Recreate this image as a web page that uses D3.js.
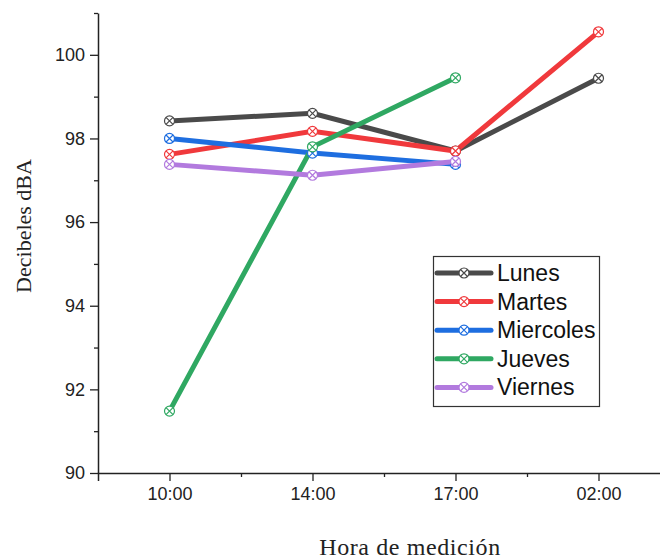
<!DOCTYPE html>
<html>
<head>
<meta charset="utf-8">
<script src="https://cdn.jsdelivr.net/npm/d3@7"></script>
<style>
  body { margin: 0; background: #fff; }
  svg { display: block; }
</style>
</head>
<body>
<div id="chart"></div>
<script>
// data
const horas = ['10:00', '14:00', '17:00', '02:00'];
const lunes = [98.42, 98.6, 97.7, 99.44];
const martes = [97.62, 98.17, 97.7, 100.55];
const miercoles = [98.0, 97.65, 97.38, null];
const jueves = [91.48, 97.8, 99.45, null];
const viernes = [97.38, 97.12, 97.45, null];
const yTicks = [90, 92, 94, 96, 98, 100];

const series = [
  {name: 'Lunes', values: lunes, color: '#4a4a4a'},
  {name: 'Martes', values: martes, color: '#f0393c'},
  {name: 'Miercoles', values: miercoles, color: '#1e6ee0'},
  {name: 'Jueves', values: jueves, color: '#2fa862'},
  {name: 'Viernes', values: viernes, color: '#b27ade'}
];

const width = 660, height = 560;
const margin = {top: 13, left: 98, bottom: 87};
const plotBottom = height - margin.bottom;
const tickFont = '"Liberation Sans", Arial, sans-serif';

const svg = d3.select('#chart').append('svg')
    .attr('width', width)
    .attr('height', height);

// x: category index, half a step of padding each side
const x = d3.scaleLinear().domain([-0.5, 3.5]).range([98, 670]);
const y = d3.scaleLinear().domain([90, 101]).range([plotBottom, margin.top]);

function styleAxis(g) {
  g.select('.domain').attr('stroke', '#222').attr('stroke-width', 1.5);
  g.selectAll('.tick line').attr('stroke', '#222').attr('stroke-width', 1.3);
  g.selectAll('.tick text')
      .style('font-family', tickFont)
      .style('font-size', '18px')
      .attr('fill', '#222');
}

// axes
svg.append('g')
    .attr('transform', `translate(0,${plotBottom})`)
    .call(d3.axisBottom(x).tickValues([0, 1, 2, 3]).tickFormat(i => horas[i]).tickSize(8).tickPadding(6))
    .call(styleAxis);
svg.append('g')
    .attr('transform', `translate(0,${plotBottom})`)
    .call(d3.axisBottom(x).tickValues([0.5, 1.5, 2.5]).tickFormat('').tickSize(4))
    .call(g => g.select('.domain').remove())
    .selectAll('line').attr('stroke', '#222').attr('stroke-width', 1.3);

svg.append('g')
    .attr('transform', `translate(98,0)`)
    .call(d3.axisLeft(y).tickValues(yTicks).tickSize(8).tickPadding(5).tickSizeOuter(0))
    .call(styleAxis);
svg.append('g')
    .attr('transform', `translate(98,0)`)
    .call(d3.axisLeft(y).tickValues([91, 93, 95, 97, 99, 101]).tickFormat('').tickSize(4))
    .call(g => g.select('.domain').remove())
    .selectAll('line').attr('stroke', '#222').attr('stroke-width', 1.3);

// axis titles
svg.append('text')
    .attr('transform', 'translate(31,226) rotate(-90)')
    .attr('text-anchor', 'middle')
    .style('font-family', '"Liberation Serif", "Times New Roman", serif')
    .style('font-size', '22px')
    .attr('fill', '#222')
    .text('Decibeles dBA');

svg.append('text')
    .attr('x', 410)
    .attr('y', 555)
    .attr('text-anchor', 'middle')
    .style('font-family', '"Liberation Serif", "Times New Roman", serif')
    .style('font-size', '24px')
    .style('letter-spacing', '0.6px')
    .attr('fill', '#222')
    .text('Hora de medición');

// lines
const line = d3.line()
    .defined(d => d != null)
    .x((d, i) => x(i))
    .y(d => y(d));

function marker(g, color) {
  g.append('circle').attr('r', 5).attr('fill', '#fff').attr('stroke', color).attr('stroke-width', 1.2);
  g.append('path').attr('d', 'M-3.5,-3.5L3.5,3.5M-3.5,3.5L3.5,-3.5')
      .attr('stroke', color).attr('stroke-width', 1.2);
}

series.forEach(s => {
  svg.append('path')
      .datum(s.values)
      .attr('fill', 'none')
      .attr('stroke', s.color)
      .attr('stroke-width', 5)
      .attr('d', line);
});
series.forEach(s => {
  s.values.forEach((v, i) => {
    if (v == null) return;
    const g = svg.append('g').attr('transform', `translate(${x(i)},${y(v)})`);
    marker(g, s.color);
  });
});

// legend
const legend = svg.append('g');
legend.append('rect')
    .attr('x', 433.5).attr('y', 256.5)
    .attr('width', 166).attr('height', 150)
    .attr('fill', '#fff').attr('stroke', '#333').attr('stroke-width', 1.2);
series.forEach((s, i) => {
  const cy = 273 + i * 28.6;
  legend.append('line')
      .attr('x1', 437).attr('x2', 491).attr('y1', cy).attr('y2', cy)
      .attr('stroke', s.color).attr('stroke-width', 5).attr('stroke-linecap', 'round');
  marker(legend.append('g').attr('transform', `translate(464,${cy})`), s.color);
  legend.append('text')
      .attr('x', 497).attr('y', cy + 8)
      .style('font-family', tickFont)
      .style('font-size', '23px')
      .attr('fill', '#111')
      .text(s.name);
});
</script>
</body>
</html>
